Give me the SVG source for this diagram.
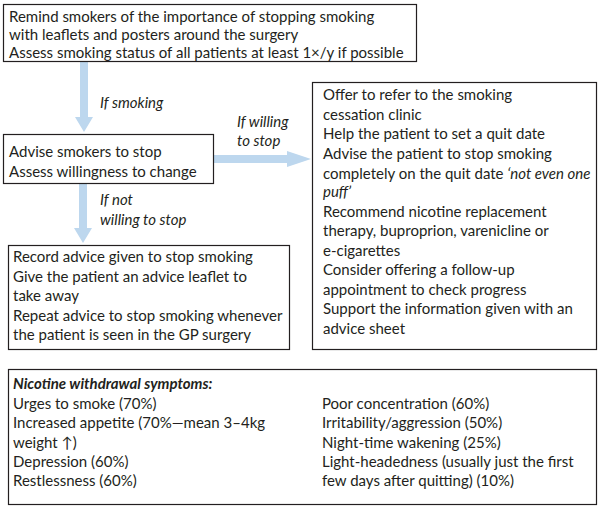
<svg xmlns="http://www.w3.org/2000/svg" width="601" height="507" viewBox="0 0 601 507">
<style>
.box{fill:#fff;stroke:#231f20;stroke-width:1.2}
.t{font-family:Lato,"Open Sans","Liberation Sans",sans-serif;font-size:15px;fill:#231f20}
.i{font-style:italic}
.b{font-weight:bold;font-style:italic}
.arr{fill:#bdd7ee}
</style>
<rect width="601" height="507" fill="#fff"/>
<g id="connectors">
<path class="arr" d="M80,61 H88 V117 H93 L84,132 L75,117 H80 Z"/>
<path class="arr" d="M79,184 H87 V228 H92 L83,243 L74,228 H79 Z"/>
<path class="arr" d="M213,155 H287 V151 L311,159 L287,167 V163 H213 Z"/>
<text class="t i" x="100" y="108">If smoking</text>
<text class="t i" x="237" y="127">If willing</text>
<text class="t i" x="237" y="146">to stop</text>
<text class="t i" x="100" y="205">If not</text>
<text class="t i" x="100" y="225">willing to stop</text>
</g>
<g id="node1">
<rect class="box" x="3.5" y="4.5" width="413" height="57"/>
<text class="t" x="9" y="22">Remind smokers of the importance of stopping smoking</text>
<text class="t" x="9" y="40">with leaflets and posters around the surgery</text>
<text class="t" x="9" y="58">Assess smoking status of all patients at least 1×/y if possible</text>
</g>
<g id="node2">
<rect class="box" x="3.5" y="134.5" width="210" height="49"/>
<text class="t" x="9" y="157">Advise smokers to stop</text>
<text class="t" x="9" y="177">Assess willingness to change</text>
</g>
<g id="node3">
<rect class="box" x="312.5" y="82.5" width="284" height="267"/>
<text class="t" x="323" y="100">Offer to refer to the smoking</text>
<text class="t" x="323" y="120">cessation clinic</text>
<text class="t" x="323" y="139">Help the patient to set a quit date</text>
<text class="t" x="323" y="159">Advise the patient to stop smoking</text>
<text class="t" x="323" y="179">completely on the quit date <tspan class="i">‘not even one</tspan></text>
<text class="t i" x="323" y="197">puff’</text>
<text class="t" x="323" y="217">Recommend nicotine replacement</text>
<text class="t" x="323" y="236">therapy, buproprion, varenicline or</text>
<text class="t" x="323" y="256">e-cigarettes</text>
<text class="t" x="323" y="275">Consider offering a follow-up</text>
<text class="t" x="323" y="295">appointment to check progress</text>
<text class="t" x="323" y="314">Support the information given with an</text>
<text class="t" x="323" y="334">advice sheet</text>
</g>
<g id="node4">
<rect class="box" x="8.5" y="245.5" width="281" height="104"/>
<text class="t" x="13" y="262">Record advice given to stop smoking</text>
<text class="t" x="13" y="282">Give the patient an advice leaflet to</text>
<text class="t" x="13" y="301">take away</text>
<text class="t" x="13" y="321">Repeat advice to stop smoking whenever</text>
<text class="t" x="13" y="340">the patient is seen in the GP surgery</text>
</g>
<g id="node5">
<rect class="box" x="8.5" y="369.5" width="588" height="135"/>
<text class="t b" x="13" y="389">Nicotine withdrawal symptoms:</text>
<text class="t" x="13" y="409">Urges to smoke (70%)</text>
<text class="t" x="13" y="428">Increased appetite (70%—mean 3–4kg</text>
<text class="t" x="13" y="448">weight ↑)</text>
<text class="t" x="13" y="467">Depression (60%)</text>
<text class="t" x="13" y="486">Restlessness (60%)</text>
<text class="t" x="322" y="409">Poor concentration (60%)</text>
<text class="t" x="322" y="428">Irritability/aggression (50%)</text>
<text class="t" x="322" y="448">Night-time wakening (25%)</text>
<text class="t" x="322" y="467">Light-headedness (usually just the first</text>
<text class="t" x="322" y="486">few days after quitting) (10%)</text>
</g>
</svg>
